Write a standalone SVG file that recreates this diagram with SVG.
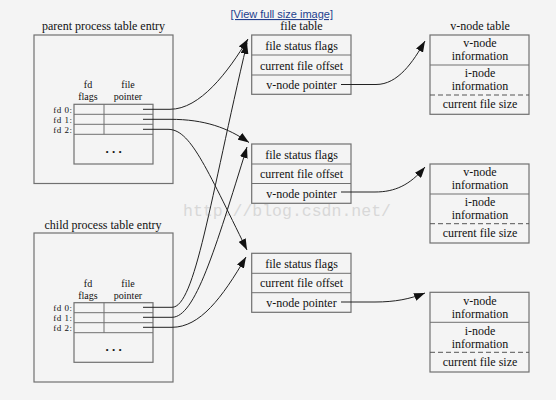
<svg xmlns="http://www.w3.org/2000/svg" width="556" height="400" viewBox="0 0 556 400">
<defs>
<style>
.t{font-family:"Liberation Serif","Times New Roman",serif;font-size:12px;fill:#111;text-anchor:middle}
.s{font-family:"Liberation Serif","Times New Roman",serif;font-size:9px;letter-spacing:0.5px;fill:#111;text-anchor:end}
.h{font-family:"Liberation Serif","Times New Roman",serif;font-size:10px;fill:#111;text-anchor:middle}
.box{fill:none;stroke:#707070;stroke-width:1.2}
.ln{fill:none;stroke:#707070;stroke-width:1}
.dash{fill:none;stroke:#555;stroke-width:1;stroke-dasharray:5 3}
.ar{fill:none;stroke:#222;stroke-width:1}
</style>
<marker id="ah" markerUnits="userSpaceOnUse" markerWidth="12" markerHeight="8" refX="11" refY="4" orient="auto">
<path d="M0,0 L11,4 L0,8 Z" fill="#111"/>
</marker>
</defs>
<rect x="0" y="0" width="556" height="400" fill="#f4f4f4"/>
<text x="230.5" y="18" style="font-family:'Liberation Sans',Arial,sans-serif;font-size:11px;fill:#233f8e;text-decoration:underline">[View full size image]</text>
<text x="183" y="216" style="font-family:'Liberation Mono','Courier New',monospace;font-size:16.5px;fill:#d8d8d8">http://blog.csdn.net/</text>

<g id="parent">
<text class="t" x="103.5" y="30">parent process table entry</text>
<rect class="box" x="34" y="35" width="139" height="148.5"/>
<text class="h" x="88" y="88">fd</text>
<text class="h" x="88" y="100">flags</text>
<text class="h" x="128" y="88">file</text>
<text class="h" x="128" y="100">pointer</text>
<rect class="box" x="74" y="104.3" width="79" height="59.7"/>
<path class="ln" d="M74 114.3H153M74 124.3H153M74 134.3H153M104 104.3V134.3"/>
<text class="s" x="72.5" y="112.5">fd 0:</text>
<text class="s" x="72.5" y="122.5">fd 1:</text>
<text class="s" x="72.5" y="132.5">fd 2:</text>
<text class="t" x="113.5" y="153" style="font-weight:bold;font-size:13px">. . .</text>
</g>

<g id="child">
<text class="t" x="103" y="229">child process table entry</text>
<rect class="box" x="34" y="233" width="139" height="149"/>
<text class="h" x="88" y="287">fd</text>
<text class="h" x="88" y="299">flags</text>
<text class="h" x="128" y="287">file</text>
<text class="h" x="128" y="299">pointer</text>
<rect class="box" x="74" y="302.7" width="79" height="59.6"/>
<path class="ln" d="M74 312.7H153M74 322.7H153M74 332.7H153M104 302.7V332.7"/>
<text class="s" x="72.5" y="311">fd 0:</text>
<text class="s" x="72.5" y="321">fd 1:</text>
<text class="s" x="72.5" y="331">fd 2:</text>
<text class="t" x="113.5" y="351" style="font-weight:bold;font-size:13px">. . .</text>
</g>

<g id="filetable1">
<text class="t" x="301.5" y="30">file table</text>
<rect class="box" x="251.7" y="35" width="99.3" height="59.3"/>
<path class="ln" d="M251.7 55H351M251.7 75H351"/>
<text class="t" x="301.5" y="49.5">file status flags</text>
<text class="t" x="301.5" y="69.5">current file offset</text>
<text class="t" x="301.5" y="89">v-node pointer</text>
</g>
<g id="filetable2">
<rect class="box" x="251.7" y="144" width="99.3" height="59.3"/>
<path class="ln" d="M251.7 164H351M251.7 183.5H351"/>
<text class="t" x="301.5" y="158.5">file status flags</text>
<text class="t" x="301.5" y="178">current file offset</text>
<text class="t" x="301.5" y="197.5">v-node pointer</text>
</g>
<g id="filetable3">
<rect class="box" x="251.7" y="253.3" width="99.3" height="59"/>
<path class="ln" d="M251.7 273.3H351M251.7 292.7H351"/>
<text class="t" x="301.5" y="267.5">file status flags</text>
<text class="t" x="301.5" y="287">current file offset</text>
<text class="t" x="301.5" y="306.5">v-node pointer</text>
</g>

<g id="vnode1">
<text class="t" x="480" y="30">v-node table</text>
<rect class="box" x="430" y="35" width="99" height="79.3"/>
<path class="ln" d="M430 65H529"/>
<path class="dash" d="M430 95H529"/>
<text class="t" x="480" y="47">v-node</text>
<text class="t" x="480" y="60">information</text>
<text class="t" x="480" y="77">i-node</text>
<text class="t" x="480" y="90">information</text>
<text class="t" x="480" y="108">current file size</text>
</g>
<g id="vnode2">
<rect class="box" x="430" y="164" width="99" height="79"/>
<path class="ln" d="M430 194H529"/>
<path class="dash" d="M430 223.7H529"/>
<text class="t" x="480" y="176">v-node</text>
<text class="t" x="480" y="189">information</text>
<text class="t" x="480" y="206">i-node</text>
<text class="t" x="480" y="219">information</text>
<text class="t" x="480" y="237">current file size</text>
</g>
<g id="vnode3">
<rect class="box" x="430" y="292.3" width="99" height="79.7"/>
<path class="ln" d="M430 322.3H529"/>
<path class="dash" d="M430 352.3H529"/>
<text class="t" x="480" y="304.5">v-node</text>
<text class="t" x="480" y="317.5">information</text>
<text class="t" x="480" y="334.5">i-node</text>
<text class="t" x="480" y="347.5">information</text>
<text class="t" x="480" y="365.5">current file size</text>
</g>

<g id="connectors">
<path class="ar" marker-end="url(#ah)" d="M143 109.3H170C200 109.3 228 72 248 39"/>
<path class="ar" marker-end="url(#ah)" d="M143 119.3H170C205 119.3 228 128 249 142.5"/>
<path class="ar" marker-end="url(#ah)" d="M143 129.3H168C190 129.3 205 165 247 250"/>
<path class="ar" marker-end="url(#ah)" d="M143 307.3H172C195 307.3 210 200 247 43"/>
<path class="ar" marker-end="url(#ah)" d="M143 317.3H172C195 317.3 215 250 247 147"/>
<path class="ar" marker-end="url(#ah)" d="M143 327.3H172C200 327.3 222 298 246 257"/>
<path class="ar" marker-end="url(#ah)" d="M341 84.5H376C398 84.5 413 62 425 41"/>
<path class="ar" marker-end="url(#ah)" d="M341 192H375C395 192 410 185 425 167"/>
<path class="ar" marker-end="url(#ah)" d="M341 302H375C395 302 410 299 425 293"/>
</g>
</svg>
